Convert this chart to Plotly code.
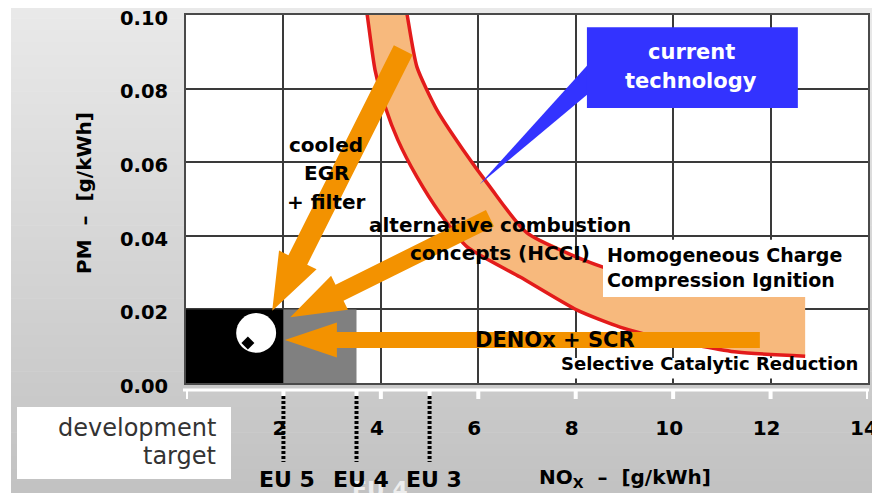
import math
import numpy as np
import plotly.graph_objects as go

# ---------------- data ----------------
nox_ticks = [2, 4, 6, 8, 10, 12, 14]
pm_ticks = [0.00, 0.02, 0.04, 0.06, 0.08, 0.10]

eu_names = ["EU 5", "EU 4", "EU 3"]
eu_nox = [2.0, 3.5, 5.0]
eu_pm = [0.02, 0.02, 0.10]
eu_box_colors = ["#000000", "#808080"]

# "current technology" NOx/PM trade-off band
band_upper_nox = [4.47, 4.54, 4.74, 5.15, 5.69, 6.24, 7.00, 8.56, 10.14, 12.71]
band_upper_pm = [0.105, 0.100, 0.0859, 0.0742, 0.0633, 0.0533, 0.0408, 0.0315, 0.0274, 0.0247]
band_lower_nox = [3.66, 3.72, 3.88, 4.09, 4.35, 4.74, 5.21, 5.77, 6.86, 8.03, 8.91, 9.94, 11.31, 12.71]
band_lower_pm = [0.105, 0.100, 0.0851, 0.0750, 0.0660, 0.0560, 0.0462, 0.0370, 0.0288, 0.0198,
                 0.0152, 0.0117, 0.0084, 0.0073]

# development target
target_zone_nox = [1.03, 1.85]
target_zone_pm = [0.0082, 0.0190]
target_point = (1.27, 0.0109)
leader_start = (0.144, -0.0063)

# technology arrows (start -> tip), NOx / PM
arrow_egr = [(4.46, 0.0905), (1.77, 0.0196)]
arrow_hcci = [(6.24, 0.0448), (2.14, 0.0179)]
arrow_scr = [(11.78, 0.0117), (2.03, 0.0117)]

# ---------------- layout geometry ----------------
# page body has an 8px margin: the figure is drawn at (8, 8) in the window
PAGE_OFF = 8
WIN_W, WIN_H = 880, 493
W, H = WIN_W - PAGE_OFF, WIN_H - PAGE_OFF
PL, PT, PR, PB = 186, 15, 868, 383          # plot area in window pixels
ML, MT = PL - PAGE_OFF, PT - PAGE_OFF
MR, MB = WIN_W - PR, WIN_H - PB
PW, PH = PR - PL, PB - PT
XR = [0, 14]
YR = [0, 0.10]

ORANGE = "#F39200"
BAND = "#F7B97D"
RED = "#E31B1B"
BLUE = "#3333FF"
FONT = "DejaVu Sans"


def to_px(x, y):
    return (PL + (x - XR[0]) / (XR[1] - XR[0]) * PW,
            PT + (1 - (y - YR[0]) / (YR[1] - YR[0])) * PH)


def to_data(px, py):
    return (XR[0] + (px - PL) / PW * (XR[1] - XR[0]),
            YR[0] + (1 - (py - PT) / PH) * (YR[1] - YR[0]))


def pxp(px, py):
    """window pixel -> paper coordinates (for decorations outside the plot)"""
    return (px - PL) / PW, (PB - py) / PH


def arrow_path(start, tip, sw, hw, hl):
    sx, sy = to_px(*start)
    tx, ty = to_px(*tip)
    dx, dy = tx - sx, ty - sy
    L = math.hypot(dx, dy)
    ux, uy = dx / L, dy / L
    nx, ny = -uy, ux
    bx, by = tx - ux * hl, ty - uy * hl
    pts = [
        (sx + nx * sw / 2, sy + ny * sw / 2),
        (bx + nx * sw / 2, by + ny * sw / 2),
        (bx + nx * hw / 2, by + ny * hw / 2),
        (tx, ty),
        (bx - nx * hw / 2, by - ny * hw / 2),
        (bx - nx * sw / 2, by - ny * sw / 2),
        (sx - nx * sw / 2, sy - ny * sw / 2),
    ]
    d = [to_data(*p) for p in pts]
    return "M " + " L ".join(f"{a:.5f},{b:.6f}" for a, b in d) + " Z"


fig = go.Figure()

# band
fig.add_trace(go.Scatter(
    x=band_upper_nox + band_lower_nox[::-1],
    y=band_upper_pm + band_lower_pm[::-1],
    fill="toself", fillcolor=BAND, mode="lines", line=dict(width=0),
    hoverinfo="skip"))
for xs, ys in [(band_upper_nox, band_upper_pm), (band_lower_nox, band_lower_pm)]:
    fig.add_trace(go.Scatter(x=xs, y=ys, mode="lines",
                             line=dict(color=RED, width=3.5, shape="spline", smoothing=0.6),
                             hoverinfo="skip"))

# leader (dotted diamonds) to the development target
lx = np.linspace(leader_start[0], target_point[0], 7)
ly = np.linspace(leader_start[1], target_point[1], 7)
fig.add_trace(go.Scatter(x=lx, y=ly, mode="markers", cliponaxis=False,
                         marker=dict(symbol="diamond", size=10, color="black"),
                         hoverinfo="skip"))

shapes = []
# background gradient
n = 40
top_py, bot_py = 6, WIN_H
for i in range(n):
    y0p = top_py + (bot_py - top_py) * i / n
    y1p = top_py + (bot_py - top_py) * (i + 1) / n + 0.6
    g = int(round(233 - (233 - 194) * i / (n - 1)))
    x0, ya = pxp(11, y0p)
    x1, yb = pxp(WIN_W + 2, y1p)
    shapes.append(dict(type="rect", xref="paper", yref="paper", x0=x0, x1=x1, y0=yb, y1=ya,
                       fillcolor=f"rgb({g},{g},{g})", line=dict(width=0), layer="below"))
# plot area white
shapes.append(dict(type="rect", xref="paper", yref="paper", x0=0, x1=1, y0=0, y1=1,
                   fillcolor="white", line=dict(width=0), layer="below"))
# development target label box
bx0, by0 = pxp(17, 479)
bx1, by1 = pxp(231, 407)
shapes.append(dict(type="rect", xref="paper", yref="paper", x0=bx0, x1=bx1, y0=by0, y1=by1,
                   fillcolor="white", line=dict(width=0), layer="below"))

# EU limit boxes
prev = 0
for i, c in enumerate(eu_box_colors):
    shapes.append(dict(type="rect", xref="x", yref="y", x0=prev, x1=eu_nox[i], y0=0, y1=eu_pm[i],
                       fillcolor=c, line=dict(width=0), layer="between"))
    prev = eu_nox[i]
# target zone circle
shapes.append(dict(type="circle", xref="x", yref="y",
                   x0=target_zone_nox[0], x1=target_zone_nox[1],
                   y0=target_zone_pm[0], y1=target_zone_pm[1],
                   fillcolor="white", line=dict(width=0), layer="between"))

# arrows
shapes.append(dict(type="path", xref="x", yref="y", path=arrow_path(*arrow_egr, 21, 42, 57),
                   fillcolor=ORANGE, line=dict(width=0), layer="above"))
shapes.append(dict(type="path", xref="x", yref="y", path=arrow_path(*arrow_hcci, 18, 38, 55),
                   fillcolor=ORANGE, line=dict(width=0), layer="above"))
shapes.append(dict(type="path", xref="x", yref="y", path=arrow_path(*arrow_scr, 16, 35, 52),
                   fillcolor=ORANGE, line=dict(width=0), layer="above"))

# current technology callout
shapes.append(dict(type="path", xref="x", yref="y",
                   path="M 8.30,0.0872 L 8.30,0.0791 L 6.03,0.0540 Z",
                   fillcolor=BLUE, line=dict(width=0), layer="above"))
shapes.append(dict(type="rect", xref="x", yref="y", x0=8.23, x1=12.56, y0=0.0747, y1=0.0967,
                   fillcolor=BLUE, line=dict(width=0), layer="above"))
# white label boxes
shapes.append(dict(type="rect", xref="x", yref="y", x0=8.56, x1=13.53, y0=0.0234, y1=0.0389,
                   fillcolor="white", line=dict(width=0), layer="above"))
shapes.append(dict(type="rect", xref="x", yref="y", x0=7.60, x1=13.85, y0=0.0012, y1=0.0068,
                   fillcolor="white", line=dict(width=0), layer="above"))

# white axis line & ticks below plot
_, yl = pxp(0, 390)
_, yt = pxp(0, 399)
shapes.append(dict(type="line", xref="paper", yref="paper", x0=pxp(183, 0)[0], x1=pxp(869, 0)[0],
                   y0=yl, y1=yl, line=dict(color="white", width=3), layer="above"))
for v in [0, 2, 3.5, 4, 5, 6, 8, 10, 12, 14]:
    shapes.append(dict(type="line", xref="x", yref="paper", x0=v, x1=v, y0=yl, y1=yt,
                       line=dict(color="white", width=4), layer="above"))
# EU dotted lines
_, ya = pxp(0, 396)
_, yb = pxp(0, 462)
for v in eu_nox:
    shapes.append(dict(type="line", xref="x", yref="paper", x0=v, x1=v, y0=ya, y1=yb,
                       line=dict(color="black", width=4, dash="3px,2px"), layer="above"))

ann = []


def label(x, y, text, size, color="black", bold=True, xanchor="center", xref="x", yref="y",
          bgcolor=None, textangle=0, family=FONT):
    d = dict(x=x, y=y, xref=xref, yref=yref, text=(f"<b>{text}</b>" if bold else text),
             showarrow=False, xanchor=xanchor, yanchor="middle", textangle=textangle,
             font=dict(family=family, size=size, color=color))
    if bgcolor:
        d["bgcolor"] = bgcolor
    ann.append(d)


label(2.874, 0.0647, "cooled", 20)
label(2.874, 0.0571, "EGR", 20)
label(2.874, 0.0492, "+ filter", 20)
label(6.446, 0.0429, "alternative combustion", 20)
label(6.446, 0.0353, "concepts (HCCI)", 20)
label(8.60, 0.0348, "Homogeneous Charge", 19, xanchor="left")
label(8.60, 0.0280, "Compression Ignition", 19, xanchor="left")
label(7.575, 0.0117, "DENOx + SCR", 21)
label(10.736, 0.0054, "Selective Catalytic Reduction", 18)
label(10.367, 0.0899, "current", 21, color="white")
label(10.367, 0.0821, "technology", 21, color="white")

# development target text
px_, py_ = pxp(218, 428)
label(px_, py_, "development", 24, color="#333333", bold=False, xanchor="right", xref="paper", yref="paper")
px_, py_ = pxp(218, 456)
label(px_, py_, "target", 24, color="#333333", bold=False, xanchor="right", xref="paper", yref="paper")

# EU labels (with the faint white "EU 4" ghost of the original slide)
_, ye = pxp(0, 479)
_, yg = pxp(0, 490)
ann.append(dict(x=pxp(350, 0)[0], y=yg, xref="paper", yref="paper", text="<b>EU 4</b>",
                showarrow=False, yanchor="middle",
                font=dict(family=FONT, size=22, color="rgba(245,245,245,0.85)")))
for name, v in zip(eu_names, eu_nox):
    ann.append(dict(x=v, y=ye, xref="x", yref="paper", text=f"<b>{name}</b>", showarrow=False,
                    xshift=4, yanchor="middle", font=dict(family=FONT, size=22, color="black")))

# axis titles
tx, ty = pxp(625, 478)
label(tx, ty, "NO<sub>X</sub>\u00a0\u00a0–\u00a0\u00a0[g/kWh]", 20, xref="paper", yref="paper")
tx, ty = pxp(84, 193)
label(tx, ty, "PM\u00a0\u00a0–\u00a0\u00a0[g/kWh]", 20, xref="paper", yref="paper", textangle=-90)

fig.update_layout(
    width=W, height=H, autosize=False,
    margin=dict(l=ML, r=MR, t=MT, b=MB, autoexpand=False),
    paper_bgcolor="white", plot_bgcolor="white",
    showlegend=False,
    shapes=shapes, annotations=ann,
    xaxis=dict(range=XR, tickvals=nox_ticks, ticktext=[str(v) for v in nox_ticks],
               ticks="", ticklabelstandoff=26, ticklabelshift=-4,
               automargin=False, ticklabeloverflow="allow",
               tickfont=dict(family=FONT, size=20, color="black", weight="bold"),
               showgrid=True, gridcolor="#3a3a3a", gridwidth=1.5,
               zeroline=False,
               showline=True, linecolor="#4a4a4a", linewidth=2, mirror=True, fixedrange=True),
    yaxis=dict(range=YR, tickvals=pm_ticks, ticktext=[f"{v:.2f}" for v in pm_ticks],
               ticks="", ticklabelstandoff=12, ticklabelshift=3,
               automargin=False, ticklabeloverflow="allow",
               tickfont=dict(family=FONT, size=19.5, color="black", weight="bold"),
               showgrid=True, gridcolor="#3a3a3a", gridwidth=1.5, zeroline=False,
               showline=True, linecolor="#4a4a4a", linewidth=2, mirror=True, fixedrange=True),
)

fig.write_html("out.html")
